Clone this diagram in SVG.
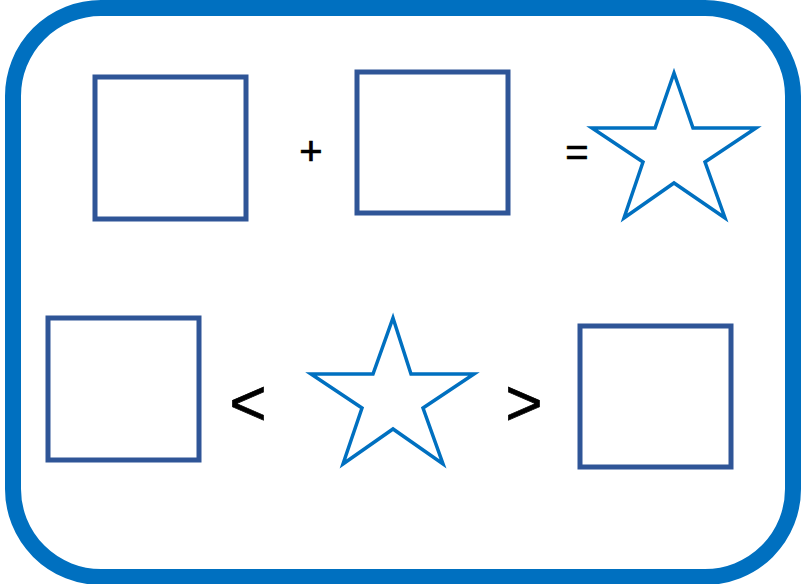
<svg xmlns="http://www.w3.org/2000/svg" width="801" height="584" viewBox="0 0 801 584">
<style>
.sq{fill:none;stroke:#2F5597;stroke-width:5}
.st{fill:none;stroke:#0070C0;stroke-width:3.5;stroke-linejoin:miter}
.sym{font-family:"Liberation Sans",Arial,sans-serif;fill:#000;stroke:#000;stroke-width:0.7;text-anchor:middle}
</style>
<rect id="frame" x="13" y="8" width="780" height="569" rx="88" ry="88" fill="#fff" stroke="#0070C0" stroke-width="16"/>
<g id="square1"><rect class="sq" x="95" y="77" width="151" height="142"/></g>
<g id="plus"><text class="sym" x="311" y="165" font-size="40">+</text></g>
<g id="square2"><rect class="sq" x="357" y="72" width="151" height="141"/></g>
<g id="equals"><text class="sym" x="577" y="166" font-size="40">=</text></g>
<g id="star1"><polygon class="st" points="674,73 693,128 756,128 705,162 725,218 674,183 624,218 643,162 592,128 655,128"/></g>
<g id="square3"><rect class="sq" x="48" y="318" width="151" height="142"/></g>
<g id="lt"><text class="sym" x="248" y="425" font-size="64" stroke-width="1">&lt;</text></g>
<g id="star2"><polygon class="st" points="393,318 411,374 474,374 423,408 443,464 393,429 343,464 362,408 311,374 373,374"/></g>
<g id="gt"><text class="sym" x="524" y="425" font-size="64" stroke-width="1">&gt;</text></g>
<g id="square4"><rect class="sq" x="580" y="326" width="151" height="141"/></g>
<g id="connectors"></g>
</svg>
